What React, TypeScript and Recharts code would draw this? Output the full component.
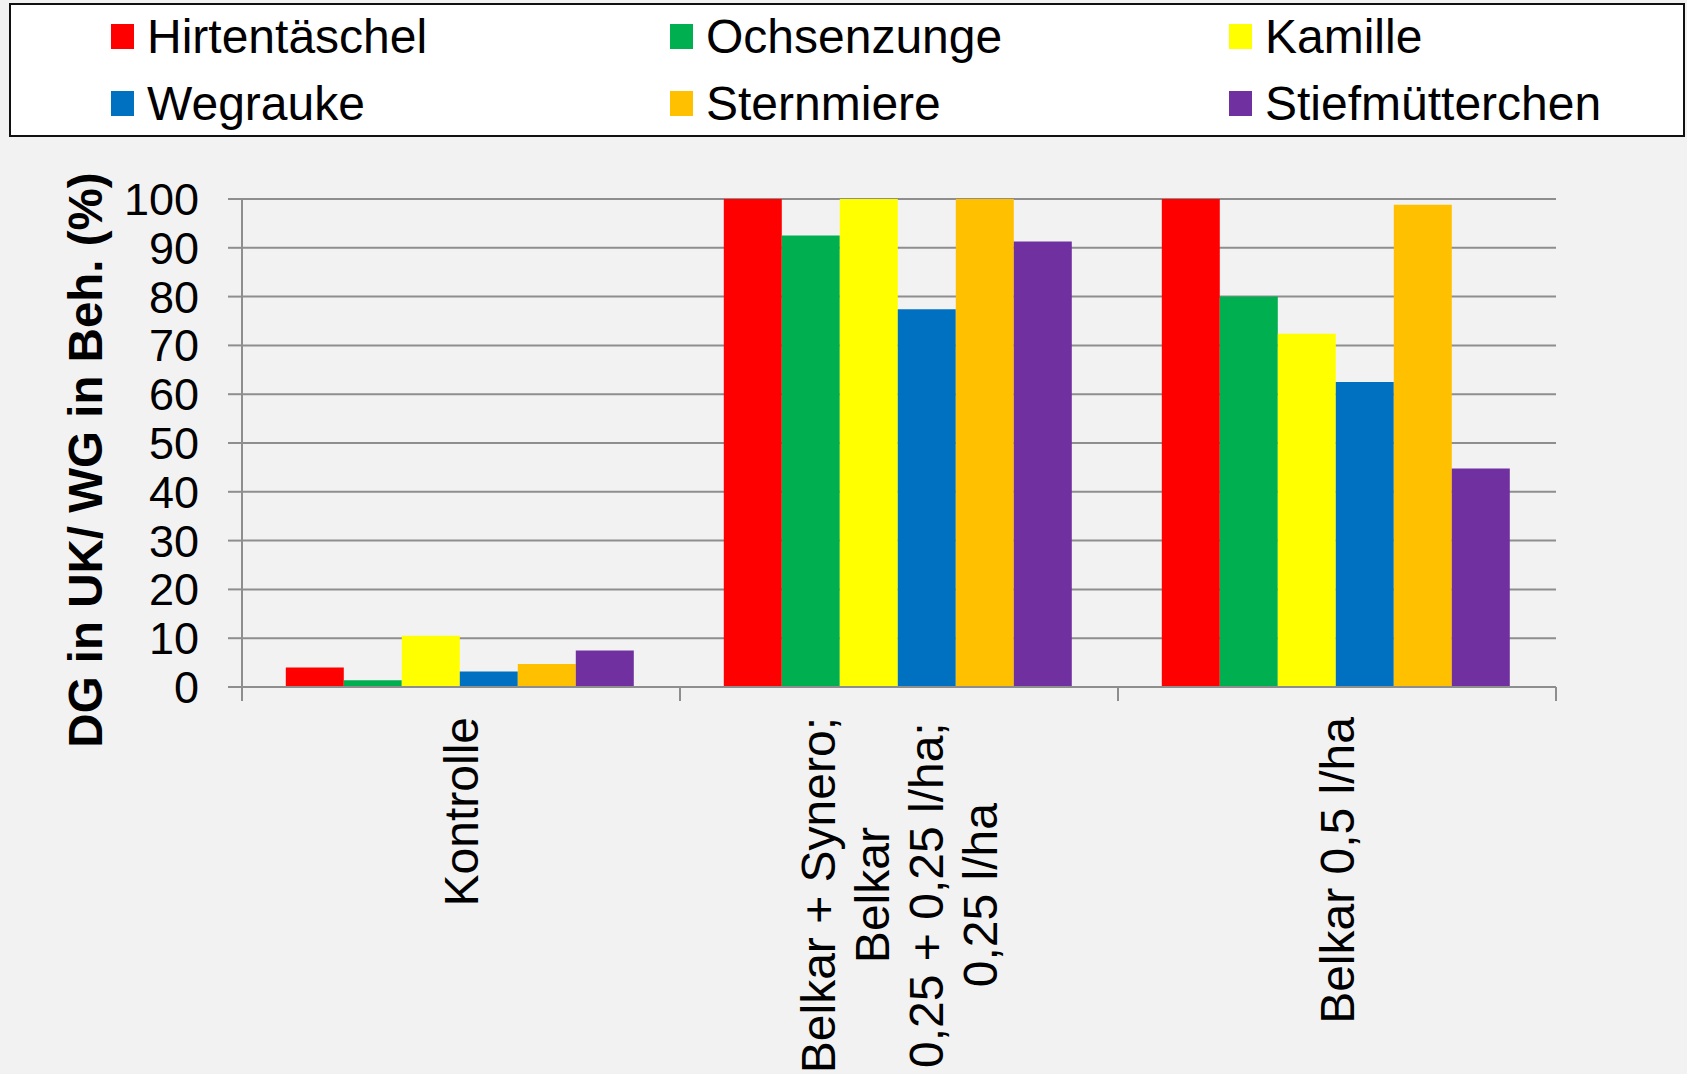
import { BarChart, Bar, XAxis, YAxis, CartesianGrid, Legend, Label } from 'recharts';

const categoryLines = [
  ['Kontrolle'],
  ['Belkar + Synero;', 'Belkar', '0,25 + 0,25 l/ha;', '0,25 l/ha'],
  ['Belkar 0,5 l/ha'],
];
const categories = categoryLines.map((l) => l.join(' '));

const hirtentaeschel = [4.0, 100, 100];
const ochsenzunge = [1.4, 92.5, 80.0];
const kamille = [10.5, 100, 72.4];
const wegrauke = [3.2, 77.4, 62.5];
const sternmiere = [4.7, 100, 98.8];
const stiefmuetterchen = [7.5, 91.3, 44.8];

const yTicks = [0, 10, 20, 30, 40, 50, 60, 70, 80, 90, 100];

const series = [
  { key: 'Hirtentäschel', values: hirtentaeschel, color: '#ff0000' },
  { key: 'Ochsenzunge', values: ochsenzunge, color: '#00b050' },
  { key: 'Kamille', values: kamille, color: '#ffff00' },
  { key: 'Wegrauke', values: wegrauke, color: '#0070c0' },
  { key: 'Sternmiere', values: sternmiere, color: '#ffc000' },
  { key: 'Stiefmütterchen', values: stiefmuetterchen, color: '#7030a0' },
];
const seriesOrder = series.map((s) => s.key);

const data = categories.map((name, i) => {
  const row: Record<string, any> = { name };
  series.forEach((s) => (row[s.key] = s.values[i]));
  return row;
});

const FONT = '"Liberation Sans", Arial, sans-serif';
const GRID = '#8e8e8e';
const LABEL_SIZE = 48;

let ctx: CanvasRenderingContext2D | null = null;
function textWidth(t: string) {
  if (!ctx) ctx = document.createElement('canvas').getContext('2d');
  if (!ctx) return t.length * LABEL_SIZE * 0.5;
  ctx.font = `${LABEL_SIZE}px "Liberation Sans", Arial`;
  return ctx.measureText(t).width;
}

function CategoryTick(props: any) {
  const { x, y, payload, index, width } = props;
  const half = payload?.offset || width / categories.length / 2;
  const lines = categoryLines[index] || [payload.value];
  const top = y + 30;
  const lineH = 53.7;
  const maxLen = Math.max(...lines.map(textWidth));
  return (
    <g>
      <line x1={x - half} y1={y} x2={x - half} y2={y + 14} stroke={GRID} strokeWidth={2} />
      {index === categories.length - 1 && (
        <line x1={x + half} y1={y} x2={x + half} y2={y + 14} stroke={GRID} strokeWidth={2} />
      )}
      {lines.map((ln: string, i: number) => {
        const bx = x + (i - (lines.length - 1) / 2) * lineH + 17;
        const single = lines.length === 1;
        const ty = single ? top : top + maxLen / 2;
        return (
          <text
            key={i}
            x={bx}
            y={ty}
            transform={`rotate(-90, ${bx}, ${ty})`}
            textAnchor={single ? 'end' : 'middle'}
            fontSize={LABEL_SIZE}
            fontFamily={FONT}
            fill="#000"
          >
            {ln}
          </text>
        );
      })}
    </g>
  );
}

function YTitle(props: any) {
  const { viewBox } = props;
  const cy = viewBox.y + viewBox.height / 2 + 17;
  const bx = 102;
  return (
    <text
      x={bx}
      y={cy}
      transform={`rotate(-90, ${bx}, ${cy})`}
      textAnchor="middle"
      fontSize={47.5}
      fontWeight="bold"
      fontFamily={FONT}
      fill="#000"
    >
      DG in UK/ WG in Beh. (%)
    </text>
  );
}

function LegendBox(props: any) {
  const items = [...(props.payload || [])].sort(
    (a: any, b: any) => seriesOrder.indexOf(a.value) - seriesOrder.indexOf(b.value)
  );
  return (
    <div style={{ width: 1676, height: 196, position: 'relative' }}>
      <div
        style={{
          position: 'absolute',
          left: 0,
          top: 0,
          width: 1676,
          height: 134,
          boxSizing: 'border-box',
          border: '2px solid #111',
          background: '#fff',
        }}
      >
        {items.map((p: any, i: number) => {
          const col = i % 3;
          const row = Math.floor(i / 3);
          return (
            <div
              key={p.value}
              style={{
                position: 'absolute',
                left: 100 + col * 559,
                top: 19 + row * 67,
                height: 25,
                display: 'flex',
                alignItems: 'center',
                whiteSpace: 'nowrap',
              }}
            >
              <span style={{ width: 23, height: 25, background: p.color, display: 'inline-block', marginRight: 13 }} />
              <span style={{ fontFamily: FONT, fontSize: 48, color: '#000', lineHeight: 'normal' }}>{p.value}</span>
            </div>
          );
        })}
      </div>
    </div>
  );
}

export default function App() {
  return (
    <div style={{ position: 'fixed', left: 0, top: 0, width: 1687, height: 1074, background: '#f2f2f2', overflow: 'hidden' }}>
      <BarChart
        width={1687}
        height={1074}
        data={data}
        margin={{ top: 3, right: 131, bottom: 7, left: 0 }}
        barCategoryGap="10%"
        barGap={0}
      >
        <Legend
          verticalAlign="top"
          align="left"
          width={1676}
          wrapperStyle={{ top: 3, left: 9 }}
          content={<LegendBox />}
        />
        <CartesianGrid vertical={false} stroke={GRID} strokeWidth={2} />
        <XAxis
          dataKey="name"
          height={380}
          interval={0}
          tickSize={0}
          tickMargin={0}
          tickLine={false}
          axisLine={{ stroke: GRID, strokeWidth: 2 }}
          tick={<CategoryTick />}
        />
        <YAxis
          width={242}
          domain={[0, 100]}
          ticks={yTicks}
          interval={0}
          tickSize={14}
          tickMargin={29}
          axisLine={{ stroke: GRID, strokeWidth: 2 }}
          tickLine={{ stroke: GRID, strokeWidth: 2 }}
          tick={{ fontSize: 45, fill: '#000', fontFamily: FONT }}
        >
          <Label content={<YTitle />} />
        </YAxis>
        {series.map((s) => (
          <Bar key={s.key} dataKey={s.key} fill={s.color} legendType="square" isAnimationActive={false} />
        ))}
      </BarChart>
    </div>
  );
}
